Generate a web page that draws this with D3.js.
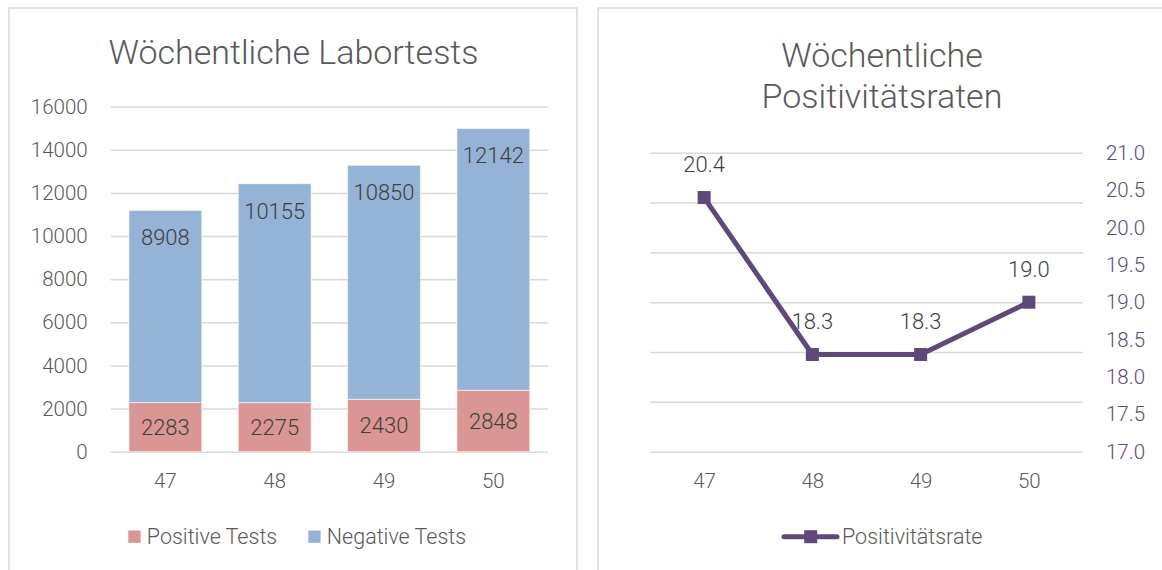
<!DOCTYPE html>
<html>
<head>
<meta charset="utf-8">
<script src="https://cdn.jsdelivr.net/npm/d3@7"></script>
<style>
  html, body { margin: 0; padding: 0; background: #fff; }
  svg { display: block; font-family: Roboto, "Noto Sans", sans-serif; font-weight: 300; }
</style>
</head>
<body>
<svg id="chart" width="1162" height="570"></svg>
<script>
// ---- data ----
const weeks = ["47", "48", "49", "50"];
const positiveTests = [2283, 2275, 2430, 2848];
const negativeTests = [8908, 10155, 10850, 12142];
const countTicks = [0, 2000, 4000, 6000, 8000, 10000, 12000, 14000, 16000];
const seriesNames = ["Positive Tests", "Negative Tests"];
const rates = [20.4, 18.3, 18.3, 19.0];
const rateTicks = [17.0, 17.5, 18.0, 18.5, 19.0, 19.5, 20.0, 20.5, 21.0];
const lineName = "Positivitätsrate";
const titleLeft = "Wöchentliche Labortests";
const titleRight = ["Wöchentliche", "Positivitätsraten"];

// ---- styles ----
const FONT = 'Roboto, "Noto Sans", sans-serif';
const C = {
  pos: "#D99694", neg: "#95B3D7", line: "#5F497A", axisR: "#604A7B",
  grid: "#D9D9D9", text: "#595959", label: "#404040", border: "#D9D9D9"
};

const svg = d3.select("#chart");

function styleAxis(g, color, size) {
  g.attr("font-family", FONT).attr("font-size", size);
  g.select(".domain").remove();
  g.selectAll(".tick text").attr("fill", color).attr("font-weight", 300);
}

// panel borders
svg.append("rect").attr("x", 9).attr("y", 8).attr("width", 568).attr("height", 580)
  .attr("fill", "#fff").attr("stroke", C.border).attr("stroke-width", 1.5);
svg.append("rect").attr("x", 598).attr("y", 8).attr("width", 568).attr("height", 580)
  .attr("fill", "#fff").attr("stroke", C.border).attr("stroke-width", 1.5);

// ================= LEFT: stacked bars =================
const L = { x0: 110.7, x1: 548, yTop: 106.7, yBot: 451.7 };
const x = d3.scaleBand().domain(weeks).range([L.x0, L.x1]).paddingInner(1 / 3).paddingOuter(1 / 6);
const y = d3.scaleLinear().domain([0, 16000]).range([L.yBot, L.yTop]);

svg.append("text").attr("x", 293.5).attr("y", 64).attr("text-anchor", "middle")
  .attr("font-size", 34).attr("fill", C.text).text(titleLeft);

const gy = svg.append("g").attr("transform", `translate(${L.x0},0)`)
  .call(d3.axisLeft(y).tickValues(countTicks).tickSize(-(L.x1 - L.x0)).tickPadding(23).tickFormat(d3.format("d")));
styleAxis(gy, C.text, 20.5);
gy.selectAll(".tick line").attr("stroke", C.grid).attr("stroke-width", 1.5);

const stackData = weeks.map((w, i) => ({ week: w, pos: positiveTests[i], neg: negativeTests[i] }));
const stacked = d3.stack().keys(["pos", "neg"])(stackData);
const colors = { pos: C.pos, neg: C.neg };

svg.append("g").selectAll("g").data(stacked).join("g")
  .attr("fill", d => colors[d.key])
  .selectAll("rect").data(d => d).join("rect")
  .attr("x", d => x(d.data.week))
  .attr("width", x.bandwidth())
  .attr("y", d => y(d[1]))
  .attr("height", d => y(d[0]) - y(d[1]))
  .attr("stroke", "rgba(255,255,255,0.6)").attr("stroke-width", 1);

// labels: positive centered, negative near top
svg.append("g").selectAll("text").data(stackData).join("text")
  .attr("x", d => x(d.week) + x.bandwidth() / 2)
  .attr("y", d => (y(0) + y(d.pos)) / 2)
  .attr("dy", "0.36em").attr("text-anchor", "middle")
  .attr("font-size", 22).attr("fill", C.label).text(d => d.pos);
svg.append("g").selectAll("text").data(stackData).join("text")
  .attr("x", d => x(d.week) + x.bandwidth() / 2)
  .attr("y", d => y(d.pos + d.neg) + 27)
  .attr("dy", "0.36em").attr("text-anchor", "middle")
  .attr("font-size", 22).attr("fill", C.label).text(d => d.neg);

const gx = svg.append("g").attr("transform", `translate(0,${L.yBot})`)
  .call(d3.axisBottom(x).tickSize(0).tickPadding(22));
styleAxis(gx, C.text, 20.5);

// legend left
const legL = svg.append("g");
const legItems = [{ name: seriesNames[0], c: C.pos, x: 128.3 }, { name: seriesNames[1], c: C.neg, x: 308.3 }];
legItems.forEach(it => {
  legL.append("rect").attr("x", it.x).attr("y", 530.5).attr("width", 12.3).attr("height", 12.3).attr("fill", it.c);
  legL.append("text").attr("x", it.x + 18.5).attr("y", 536.7).attr("dy", "0.36em")
    .attr("font-size", 21.5).attr("fill", C.text).text(it.name);
});

// ================= RIGHT: line =================
const R = { x0: 650, x1: 1083, yTop: 152.7, yBot: 451.7 };
const xR = d3.scalePoint().domain(weeks).range([R.x0, R.x1]).padding(0.5);
const yR = d3.scaleLinear().domain([17, 21]).range([R.yBot, R.yTop]);
const gridScale = d3.scaleLinear().domain([0, 6]).range([R.yBot, R.yTop]);

const tR = svg.append("text").attr("text-anchor", "middle").attr("font-size", 34).attr("fill", C.text);
titleRight.forEach((t, i) => tR.append("tspan").attr("x", 882).attr("y", 67 + i * 41).text(t));

const gg = svg.append("g").attr("transform", `translate(${R.x0},0)`)
  .call(d3.axisLeft(gridScale).ticks(6).tickSize(-(R.x1 - R.x0)).tickFormat(""));
gg.select(".domain").remove();
gg.selectAll(".tick line").attr("stroke", C.grid).attr("stroke-width", 1.5);

const gyR = svg.append("g").attr("transform", `translate(${R.x1},0)`)
  .call(d3.axisRight(yR).tickValues(rateTicks).tickSize(0).tickPadding(23).tickFormat(d3.format(".1f")));
styleAxis(gyR, C.axisR, 20.5);

const gxR = svg.append("g").attr("transform", `translate(0,${R.yBot})`)
  .call(d3.axisBottom(xR).tickSize(0).tickPadding(22));
styleAxis(gxR, C.text, 20.5);

const lineData = weeks.map((w, i) => ({ week: w, v: rates[i] }));
svg.append("path").datum(lineData)
  .attr("d", d3.line().x(d => xR(d.week)).y(d => yR(d.v)))
  .attr("fill", "none").attr("stroke", C.line).attr("stroke-width", 5).attr("stroke-linejoin", "round");
const mk = 13;
svg.append("g").selectAll("rect").data(lineData).join("rect")
  .attr("x", d => xR(d.week) - mk / 2).attr("y", d => yR(d.v) - mk / 2)
  .attr("width", mk).attr("height", mk).attr("fill", C.line);
svg.append("g").selectAll("text").data(lineData).join("text")
  .attr("x", d => xR(d.week)).attr("y", d => yR(d.v) - 33).attr("dy", "0.36em")
  .attr("text-anchor", "middle").attr("font-size", 22).attr("fill", C.label)
  .text(d => d3.format(".1f")(d.v));

// legend right
const legR = svg.append("g");
legR.append("line").attr("x1", 784).attr("x2", 837).attr("y1", 536.7).attr("y2", 536.7)
  .attr("stroke", C.line).attr("stroke-width", 5).attr("stroke-linecap", "round");
legR.append("rect").attr("x", 810.7 - 6.5).attr("y", 536.7 - 6.5).attr("width", 13).attr("height", 13).attr("fill", C.line);
legR.append("text").attr("x", 842).attr("y", 536.7).attr("dy", "0.36em")
  .attr("font-size", 21.5).attr("fill", C.text).text(lineName);
</script>
</body>
</html>
